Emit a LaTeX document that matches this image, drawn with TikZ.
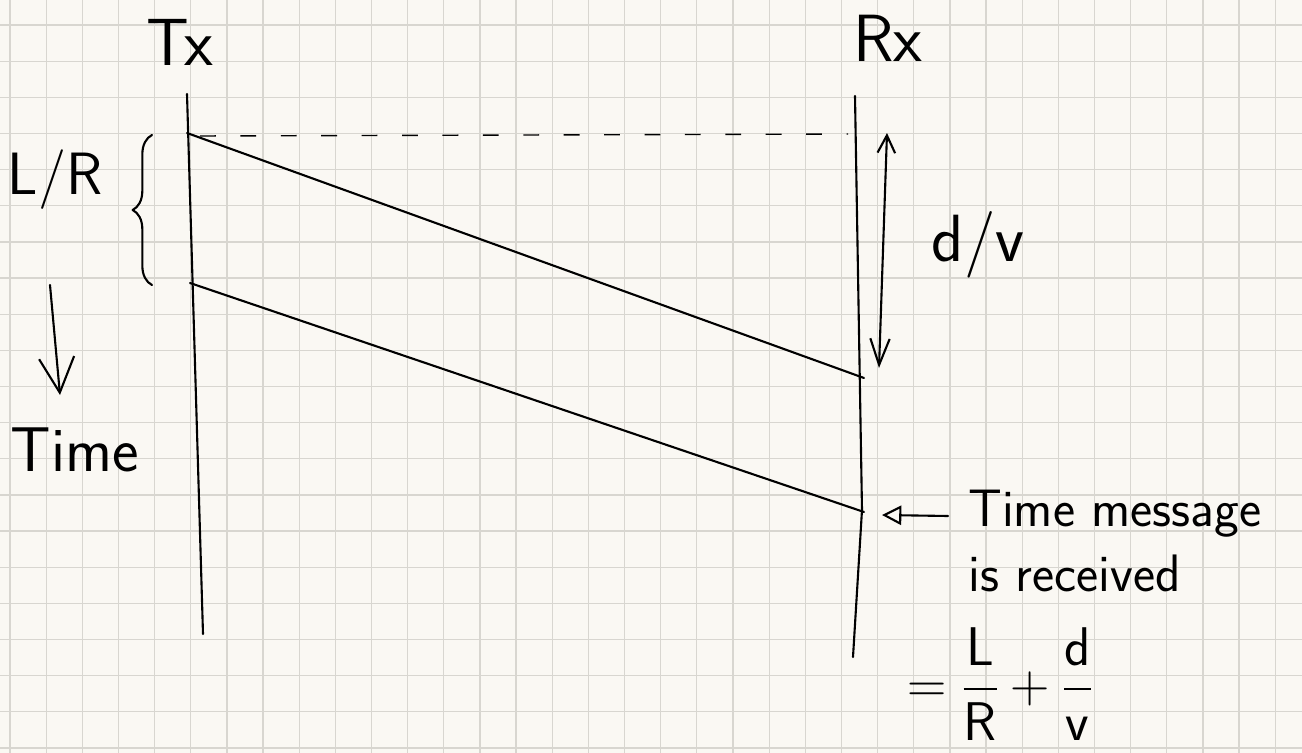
\RequirePackage{fix-cm}
\documentclass[tikz,border=0pt]{standalone}
\usepackage{amsmath}
\usetikzlibrary{arrows.meta,decorations.pathreplacing}

\definecolor{paper}{HTML}{FAF8F3}
\definecolor{gridline}{HTML}{D8D6D0}

\begin{document}
\begin{tikzpicture}[
    x=0.02cm, y=-0.02cm,
    hand/.style 2 args={font=\sffamily\fontsize{#1}{#2}\selectfont, inner sep=0pt},
    pen/.style={line width=1.2pt, line cap=round, line join=round},
    grid line/.style={gridline, line width=0.7pt}
]
\useasboundingbox (0,0) rectangle (1302,753);
\fill[paper] (0,0) rectangle (1302,753);
\clip (0,0) rectangle (1302,753);

% squared paper
\foreach \gx in {0,...,35}
    \draw[grid line] ({10+36.15*\gx},0) -- ({10+36.15*\gx},753);
\foreach \gy in {0,...,20}
    \draw[grid line] (0,{25+36.15*\gy}) -- (1302,{25+36.15*\gy});

% labels
\node[hand={38}{44}] (tx) at (180,42) {Tx};
\node[hand={38}{44}] (rx) at (888,38) {Rx};
\node[hand={34}{40}] (lr) at (55,180) {L/R};
\node[hand={36}{42}] (time) at (75,450) {Time};
\node[hand={38}{44}] (dv) at (978,245) {d/v};
\node[hand={30}{37}, align=left, anchor=north west] (msg) at (968,490) {Time message\\is received};
\node[inner sep=0pt, font=\fontsize{31}{36}\selectfont] (eq) at (1000,684)
    {$=\dfrac{\mathsf{L}}{\mathsf{R}}+\dfrac{\mathsf{d}}{\mathsf{v}}$};

% time lines
\coordinate (tx top) at (187,94);
\coordinate (tx bot) at (203,634);
\coordinate (rx top) at (855,96);
\coordinate (rx mid) at (862,510);
\coordinate (rx bot) at (853,657);
\draw[pen] (tx top) -- (tx bot);
\draw[pen] (rx top) -- (rx mid) -- (rx bot);

% first and last bit
\coordinate (first tx) at (187,133);
\coordinate (first rx) at (864,378);
\coordinate (last tx) at (190,283);
\coordinate (last rx) at (864,512);
\draw[pen] (first tx) -- (first rx);
\draw[pen] (last tx) -- (last rx);

\coordinate (dash start) at (200,136);
\coordinate (dash end) at (848,134);
\draw[line width=0.8pt, dash pattern=on 9pt off 14pt] (dash start) -- (dash end);

% L/R brace
\coordinate (brace bot) at (152,285);
\coordinate (brace top) at (152,135);
\draw[pen, decorate, decoration={brace, amplitude=11pt}] (brace bot) -- (brace top);

% time arrow
\coordinate (time top) at (50,285);
\coordinate (time tip) at (60,395);
\draw[pen, -{Straight Barb[length=20pt, width=20pt]}] (time top) -- (time tip);

% d/v arrow
\coordinate (dv top) at (887,133);
\coordinate (dv bot) at (879,368);
\draw[pen, {Straight Barb[length=10pt, width=10pt]}-{Straight Barb[length=15pt, width=11pt]}] (dv top) -- (dv bot);

% received arrow
\coordinate (rcv tail) at (948,516);
\coordinate (rcv tip) at (882,515);
\draw[pen, -{Triangle[open, length=11pt, width=11pt]}] (rcv tail) -- (rcv tip);
\end{tikzpicture}
\end{document}
